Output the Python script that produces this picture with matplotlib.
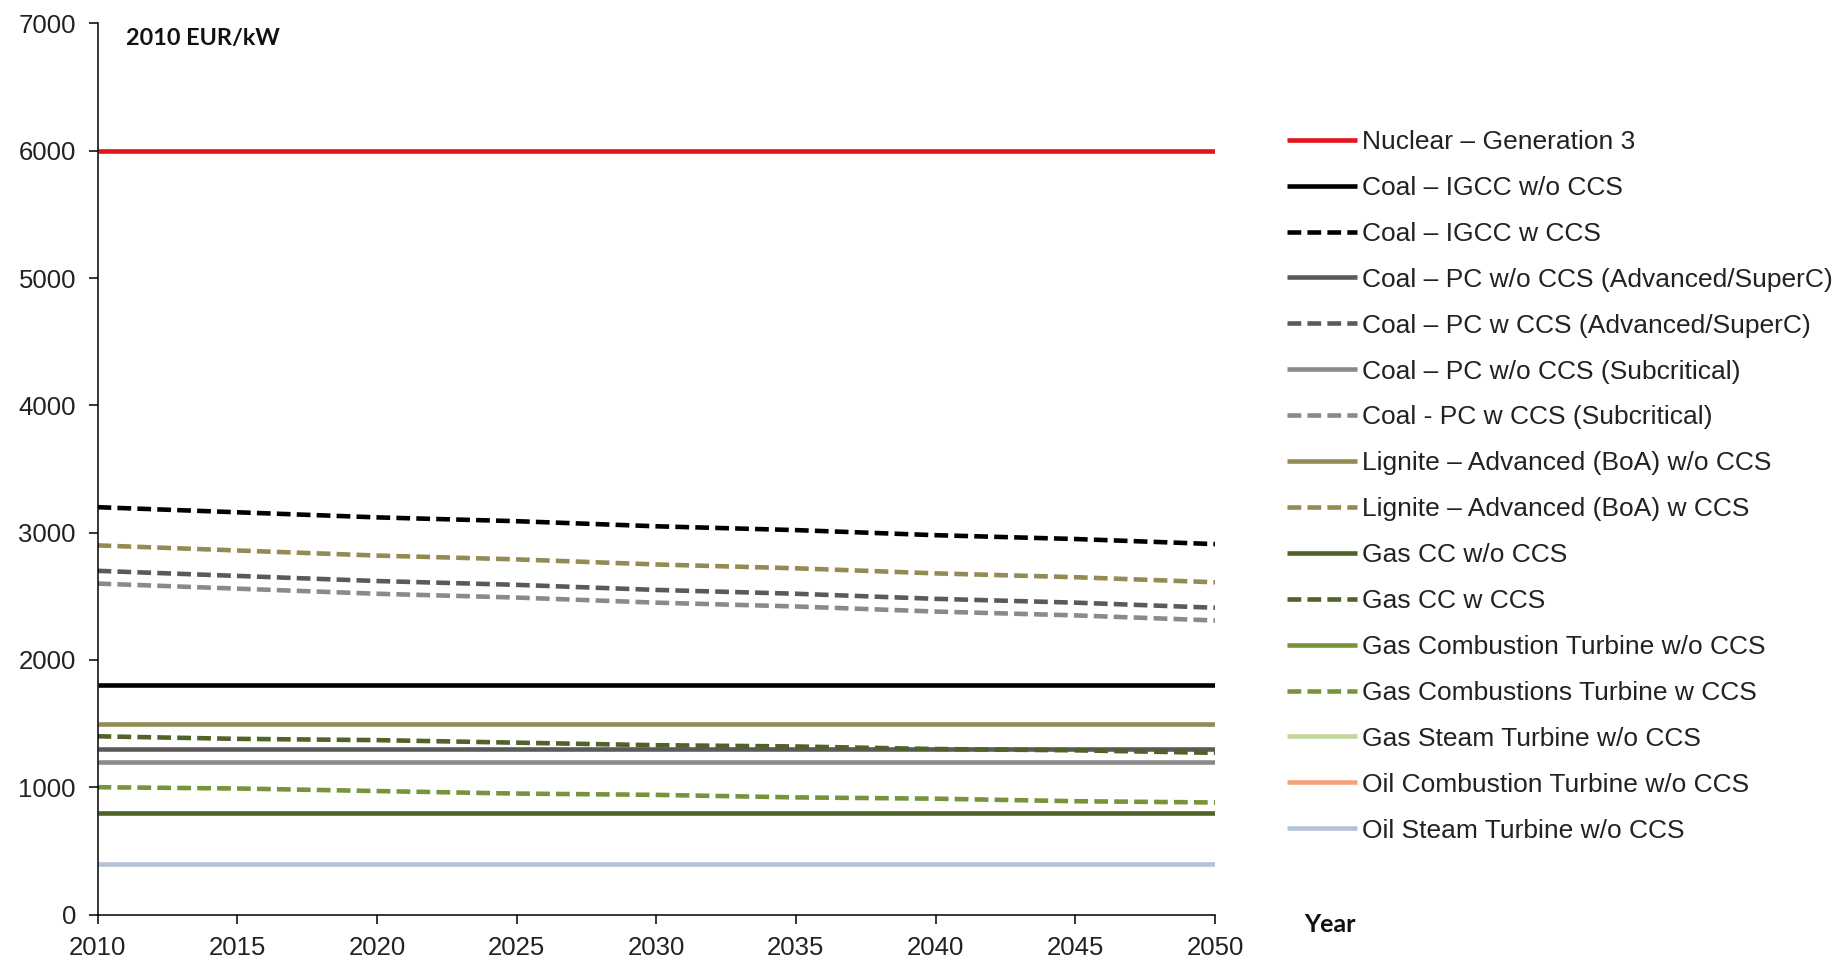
import matplotlib
matplotlib.use("Agg")
import matplotlib.pyplot as plt
import numpy as np

years = [2010, 2015, 2020, 2025, 2030, 2035, 2040, 2045, 2050]

series_names = [
    "Nuclear \u2013 Generation 3",
    "Coal \u2013 IGCC w/o CCS",
    "Coal \u2013 IGCC w CCS",
    "Coal \u2013 PC w/o CCS (Advanced/SuperC)",
    "Coal \u2013 PC w CCS (Advanced/SuperC)",
    "Coal \u2013 PC w/o CCS (Subcritical)",
    "Coal - PC w CCS (Subcritical)",
    "Lignite \u2013 Advanced (BoA) w/o CCS",
    "Lignite \u2013 Advanced (BoA) w CCS",
    "Gas CC w/o CCS",
    "Gas CC w CCS",
    "Gas Combustion Turbine w/o CCS",
    "Gas Combustions Turbine w CCS",
    "Gas Steam Turbine w/o CCS",
    "Oil Combustion Turbine w/o CCS",
    "Oil Steam Turbine w/o CCS",
]

nan = float("nan")
nuclear_gen3 = [6000, 6000, 6000, 6000, 6000, 6000, 6000, 6000, 6000]
coal_igcc_wo = [1800, 1800, 1800, 1800, 1800, 1800, 1800, 1800, 1800]
coal_igcc_w = [3200, 3160, 3120, 3090, 3050, 3020, 2980, 2950, 2910]
coal_pc_adv_wo = [1300, 1300, 1300, 1300, 1300, 1300, 1300, 1300, 1300]
coal_pc_adv_w = [2700, 2660, 2620, 2590, 2550, 2520, 2480, 2450, 2410]
coal_pc_sub_wo = [1200, 1200, 1200, 1200, 1200, 1200, 1200, 1200, 1200]
coal_pc_sub_w = [2600, 2560, 2520, 2490, 2450, 2420, 2380, 2350, 2310]
lignite_wo = [1500, 1500, 1500, 1500, 1500, 1500, 1500, 1500, 1500]
lignite_w = [2900, 2860, 2820, 2790, 2750, 2720, 2680, 2650, 2610]
gas_cc_wo = [800, 800, 800, 800, 800, 800, 800, 800, 800]
gas_cc_w = [1400, 1380, 1370, 1350, 1330, 1320, 1300, 1290, 1270]
gas_ct_wo = [nan] * 9
gas_ct_w = [1000, 990, 970, 950, 940, 920, 910, 890, 880]
gas_st_wo = [nan] * 9
oil_ct_wo = [nan] * 9
oil_st_wo = [400, 400, 400, 400, 400, 400, 400, 400, 400]

series_values = [nuclear_gen3, coal_igcc_wo, coal_igcc_w, coal_pc_adv_wo, coal_pc_adv_w,
                 coal_pc_sub_wo, coal_pc_sub_w, lignite_wo, lignite_w, gas_cc_wo, gas_cc_w,
                 gas_ct_wo, gas_ct_w, gas_st_wo, oil_ct_wo, oil_st_wo]

colors = ["#E3141B", "#000000", "#000000", "#5A5A5A", "#5A5A5A", "#8A8A8A", "#8A8A8A",
          "#948A54", "#948A54", "#4F6228", "#4F6228", "#77933C", "#77933C",
          "#C3D69B", "#F4A27A", "#B4C3D6"]
dashed = [False, False, True, False, True, False, True, False, True, False, True,
          False, True, False, False, False]

y_ticks = [0, 1000, 2000, 3000, 4000, 5000, 6000, 7000]
x_ticks = [2010, 2015, 2020, 2025, 2030, 2035, 2040, 2045, 2050]

plt.rcParams['font.family'] = ['Liberation Sans', 'DejaVu Sans']

fig = plt.figure(figsize=(18.43, 9.61), dpi=100)
ax = fig.add_axes([97.5 / 1843, 1 - 914.5 / 961, (1215 - 97.5) / 1843, (914.5 - 23.5) / 961])

handles = []
for name, vals, c, d in zip(series_names, series_values, colors, dashed):
    ls = (0, (3.0, 1.35)) if d else '-'
    ln, = ax.plot(years, vals, color=c, lw=3.3, ls=ls, label=name,
                  solid_capstyle='butt', dash_capstyle='butt')
    handles.append(ln)

ax.set_xlim(2010, 2050)
ax.set_ylim(0, 7000)
ax.set_xticks(x_ticks)
ax.set_yticks(y_ticks)
for s in ['top', 'right']:
    ax.spines[s].set_visible(False)
for s in ['left', 'bottom']:
    ax.spines[s].set_linewidth(1.1)
    ax.spines[s].set_color('#000000')
ax.tick_params(axis='both', direction='out', length=6.5, width=1.1, colors='#000000',
               labelsize=18.5, labelcolor='#222222')
ax.tick_params(axis='y', pad=9)
ax.tick_params(axis='x', pad=9)

fig.text(126 / 1843, 1 - 38 / 961, "2010 EUR/kW", fontsize=16.8, fontweight='bold',
         family=['Lato', 'DejaVu Sans'], va='center', ha='left', color='#111111')
fig.text(1304 / 1843, 1 - 924 / 961, "Year", fontsize=18, fontweight='bold',
         family=['Lato', 'DejaVu Sans'], va='center', ha='left', color='#111111')

leg = fig.legend(handles=handles, loc='upper left', bbox_to_anchor=(1287 / 1843, 1 - 130 / 961),
                 frameon=False, fontsize=19, handlelength=2.65, handletextpad=0.2,
                 labelspacing=0.83, borderpad=0, borderaxespad=0)
for t in leg.get_texts():
    t.set_color('#222222')

fig.savefig("out.png", dpi=100, facecolor='white')
